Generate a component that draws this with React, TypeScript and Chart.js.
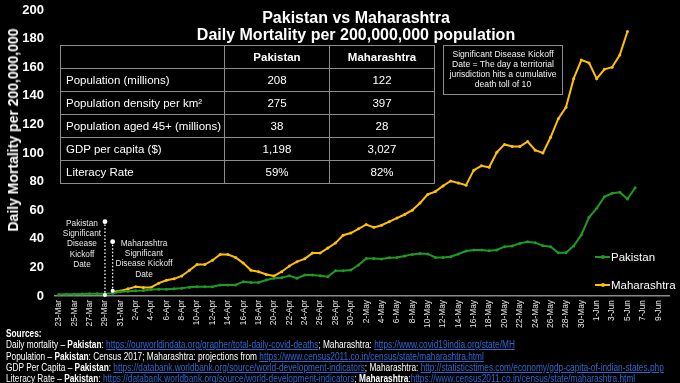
import React, { useEffect, useRef } from "react";
import { Chart, registerables } from "chart.js";

Chart.register(...registerables);

const dates = [
  "23-Mar","24-Mar","25-Mar","26-Mar","27-Mar","28-Mar","29-Mar","30-Mar","31-Mar",
  "1-Apr","2-Apr","3-Apr","4-Apr","5-Apr","6-Apr","7-Apr","8-Apr","9-Apr","10-Apr",
  "11-Apr","12-Apr","13-Apr","14-Apr","15-Apr","16-Apr","17-Apr","18-Apr","19-Apr","20-Apr",
  "21-Apr","22-Apr","23-Apr","24-Apr","25-Apr","26-Apr","27-Apr","28-Apr","29-Apr","30-Apr",
  "1-May","2-May","3-May","4-May","5-May","6-May","7-May","8-May","9-May","10-May",
  "11-May","12-May","13-May","14-May","15-May","16-May","17-May","18-May","19-May","20-May",
  "21-May","22-May","23-May","24-May","25-May","26-May","27-May","28-May","29-May","30-May","31-May",
  "1-Jun","2-Jun","3-Jun","4-Jun","5-Jun","6-Jun","7-Jun","8-Jun","9-Jun","10-Jun",
];

const pakistan = [
  1.0, 1.2, 1.3, 1.4, 1.5, 1.5, 1.5, 2.0, 3.0, 3.3,
  3.6, 3.8, 4.5, 4.7, 4.7, 5.0, 5.4, 6.2, 6.5, 6.5,
  6.5, 7.7, 7.7, 7.7, 10.0, 9.5, 9.5, 11.2, 12.4, 12.8,
  14.2, 12.4, 14.7, 14.7, 14.2, 13.5, 17.7, 17.7, 18.2, 21.7,
  26.3, 26.3, 25.9, 26.8, 27.0, 28.0, 29.1, 29.8, 29.4, 27.0,
  27.0, 27.5, 29.4, 31.5, 32.2, 32.2, 31.7, 32.2, 34.5, 35.0,
  36.8, 38.0, 37.3, 35.2, 34.5, 30.3, 30.3, 35.0, 42.7, 55.0,
  61.3, 69.4, 71.8, 72.5, 67.8, 75.7,
];

const maharashtra = [
  null, null, null, null, null, null, null, 3, 3.5, 5,
  6.5, 6, 6, 9, 11, 12, 14, 18, 22, 22,
  25, 29, 29, 27, 23, 18, 17, 15, 14, 17,
  21, 24, 26, 30, 30, 33.5, 37, 42.5, 44, 47,
  50, 48, 49.5, 52, 54.5, 57, 60, 65, 71, 73,
  77, 80.4, 79, 77.5, 88, 91, 90, 100.5, 106, 104.5,
  104.5, 108, 102, 100, 111, 124, 132, 152, 165, 163,
  152, 158.5, 160, 168.5, 185,
];

const seriesNames = ["Pakistan", "Maharashtra"];
const seriesColors = ["#1f9a24", "#ffc000"];

const yMin = 0;
const yMax = 200;
const yStep = 20;

const kickoffIndex = [6, 7];
const kickoffTop = [52, 38];
const kickoffBase = [0, 3];

const tableHeader = ["", "Pakistan", "Maharashtra"];
const tableRowLabels = [
  "Population (millions)",
  "Population density per km²",
  "Population aged 45+ (millions)",
  "GDP per capita ($)",
  "Literacy Rate",
];
const tablePakistan = ["208", "275", "38", "1,198", "59%"];
const tableMaharashtra = ["122", "397", "28", "3,027", "82%"];

const SANS = '"Liberation Sans", Arial, sans-serif';
const LINK = "#2f67cc";

const L = ({ children }: { children: React.ReactNode }) => (
  <span style={{ color: LINK, textDecoration: "underline" }}>{children}</span>
);

export default function App() {
  const ref = useRef<HTMLCanvasElement>(null);

  useEffect(() => {
    const kickoffPlugin = {
      id: "kickoff",
      afterDatasetsDraw(chart: any) {
        const { ctx } = chart;
        const x = chart.scales.x;
        const y = chart.scales.y;
        ctx.save();
        kickoffIndex.forEach((idx, k) => {
          const px = x.getPixelForValue(idx);
          const yTop = y.getPixelForValue(kickoffTop[k]);
          const yBot = y.getPixelForValue(kickoffBase[k]);
          ctx.strokeStyle = "#ffffff";
          ctx.lineWidth = 1.3;
          ctx.setLineDash([1.5, 2]);
          ctx.beginPath();
          ctx.moveTo(px, yBot);
          ctx.lineTo(px, yTop);
          ctx.stroke();
          ctx.setLineDash([]);
          ctx.fillStyle = "#ffffff";
          ctx.beginPath();
          ctx.arc(px, yTop, 2.4, 0, Math.PI * 2);
          ctx.fill();
          ctx.beginPath();
          ctx.arc(px, yBot - 1, 2, 0, Math.PI * 2);
          ctx.fill();
        });
        ctx.restore();
      },
    };

    const mk = (i: number, data: (number | null)[]) => ({
      label: seriesNames[i],
      data,
      borderColor: seriesColors[i],
      backgroundColor: seriesColors[i],
      pointBackgroundColor: seriesColors[i],
      pointBorderWidth: 0,
      pointRadius: 1.5,
      borderWidth: 2,
      tension: 0,
      spanGaps: false,
    });

    const chart = new Chart(ref.current as HTMLCanvasElement, {
      type: "line",
      data: { labels: dates, datasets: [mk(0, pakistan), mk(1, maharashtra)] },
      options: {
        animation: false,
        responsive: false,
        maintainAspectRatio: false,
        layout: { padding: { top: 10, left: 0, right: 9, bottom: 51 } },
        plugins: {
          legend: { display: false },
          tooltip: { enabled: false },
          title: { display: false },
        },
        scales: {
          x: {
            type: "category",
            offset: true,
            grid: { display: false, drawTicks: false },
            border: { display: true, color: "#8a8a8a", width: 1.5 },
            ticks: {
              autoSkip: false,
              minRotation: 90,
              maxRotation: 90,
              padding: 4,
              color: "#e6e6e6",
              font: { family: SANS, size: 8.4 },
              callback: (_v: any, i: number) => (i % 2 === 0 ? dates[i] : ""),
            },
            afterFit: (s: any) => {
              s.height = 36;
            },
          },
          y: {
            min: yMin,
            max: yMax,
            grid: { display: false, drawTicks: false },
            border: { display: false },
            ticks: {
              stepSize: yStep,
              padding: 11,
              color: "#ffffff",
              font: { family: SANS, size: 13, weight: "bold" },
            },
            afterFit: (s: any) => {
              s.width = 55;
              s.paddingTop = 0;
              s.paddingBottom = 0;
            },
          },
        },
      } as any,
      plugins: [kickoffPlugin],
    });
    return () => chart.destroy();
  }, []);

  const cell: React.CSSProperties = {
    border: "1px solid #8c8c8c",
    padding: "0 5px",
    height: 22,
    color: "#fff",
    fontSize: 11.5,
    fontFamily: SANS,
    whiteSpace: "nowrap",
  };

  return (
    <div
      style={{
        position: "fixed",
        left: 0,
        top: 0,
        width: 680,
        height: 383,
        background: "#000",
        overflow: "hidden",
        fontFamily: SANS,
        color: "#fff",
      }}
    >
      <canvas ref={ref} width={680} height={383} style={{ position: "absolute", left: 0, top: 0 }} />

      <div
        style={{
          position: "absolute",
          left: 356,
          top: 8.5,
          transform: "translateX(-50%)",
          textAlign: "center",
          whiteSpace: "nowrap",
          fontWeight: "bold",
          fontSize: 16,
          lineHeight: "17px",
        }}
      >
        <div>Pakistan vs Maharashtra</div>
        <div>Daily Mortality per 200,000,000 population</div>
      </div>

      <div
        style={{
          position: "absolute",
          left: 13,
          top: 130,
          transform: "translate(-50%, -50%) rotate(-90deg)",
          whiteSpace: "nowrap",
          fontWeight: "bold",
          fontSize: 14,
        }}
      >
        Daily Mortality per 200,000,000
      </div>

      <table
        style={{
          position: "absolute",
          left: 60,
          top: 45,
          borderCollapse: "collapse",
          tableLayout: "fixed",
          width: 374,
        }}
      >
        <colgroup>
          <col style={{ width: 164 }} />
          <col style={{ width: 105 }} />
          <col style={{ width: 105 }} />
        </colgroup>
        <tbody>
          <tr>
            {tableHeader.map((h, i) => (
              <td key={i} style={{ ...cell, fontWeight: "bold", textAlign: "center" }}>
                {h}
              </td>
            ))}
          </tr>
          {tableRowLabels.map((r, i) => (
            <tr key={i}>
              <td style={{ ...cell, textAlign: "left" }}>{r}</td>
              <td style={{ ...cell, textAlign: "center" }}>{tablePakistan[i]}</td>
              <td style={{ ...cell, textAlign: "center" }}>{tableMaharashtra[i]}</td>
            </tr>
          ))}
        </tbody>
      </table>

      <div
        style={{
          position: "absolute",
          left: 443,
          top: 45,
          width: 118,
          height: 45,
          border: "1px solid #8c8c8c",
          textAlign: "center",
          fontSize: 8.6,
          lineHeight: "10px",
          paddingTop: 3,
          boxSizing: "content-box",
          color: "#f2f2f2",
        }}
      >
        Significant Disease Kickoff
        <br />
        Date = The day a territorial
        <br />
        jurisdiction hits a cumulative
        <br />
        death toll of 10
      </div>

      <div
        style={{
          position: "absolute",
          left: 82,
          top: 218,
          transform: "translateX(-50%)",
          textAlign: "center",
          fontSize: 8.3,
          lineHeight: "10.2px",
          color: "#e6e6e6",
          whiteSpace: "nowrap",
        }}
      >
        Pakistan
        <br />
        Significant
        <br />
        Disease
        <br />
        Kickoff
        <br />
        Date
      </div>

      <div
        style={{
          position: "absolute",
          left: 144,
          top: 238,
          transform: "translateX(-50%)",
          textAlign: "center",
          fontSize: 8.3,
          lineHeight: "10.2px",
          color: "#e6e6e6",
          whiteSpace: "nowrap",
        }}
      >
        Maharashtra
        <br />
        Significant
        <br />
        Disease Kickoff
        <br />
        Date
      </div>

      {seriesNames.map((n, i) => (
        <div
          key={n}
          style={{
            position: "absolute",
            left: 595,
            top: [257, 285][i] - 8,
            height: 16,
            display: "flex",
            alignItems: "center",
            whiteSpace: "nowrap",
            fontSize: 11.5,
          }}
        >
          <span style={{ position: "relative", width: 15, height: 2, background: seriesColors[i], display: "inline-block" }}>
            <span
              style={{
                position: "absolute",
                left: 5.5,
                top: -1,
                width: 4,
                height: 4,
                borderRadius: 2,
                background: seriesColors[i],
              }}
            />
          </span>
          <span style={{ marginLeft: 1 }}>{n}</span>
        </div>
      ))}

      <div
        style={{
          position: "absolute",
          left: 6,
          top: 328,
          fontSize: 10,
          lineHeight: "11.3px",
          whiteSpace: "nowrap",
          color: "#fff",
          transform: "scaleX(0.83)",
          transformOrigin: "0 0",
        }}
      >
        <div style={{ fontWeight: "bold" }}>Sources:</div>
        <div>
          Daily mortality – <b>Pakistan</b>: <L>https://ourworldindata.org/grapher/total-daily-covid-deaths</L>; Maharashtra:{" "}
          <L>https://www.covid19india.org/state/MH</L>
        </div>
        <div>
          Population – <b>Pakistan</b>: Census 2017; Maharashtra: projections from{" "}
          <L>https://www.census2011.co.in/census/state/maharashtra.html</L>
        </div>
        <div>
          GDP Per Capita – <b>Pakistan</b>: <L>https://databank.worldbank.org/source/world-development-indicators</L>; Maharashtra:{" "}
          <L>http://statisticstimes.com/economy/gdp-capita-of-indian-states.php</L>
        </div>
        <div>
          Literacy Rate – <b>Pakistan</b>: <L>https://databank.worldbank.org/source/world-development-indicators</L>;{" "}
          <b>Maharashtra</b>:<L>https://www.census2011.co.in/census/state/maharashtra.html</L>
        </div>
      </div>
    </div>
  );
}
